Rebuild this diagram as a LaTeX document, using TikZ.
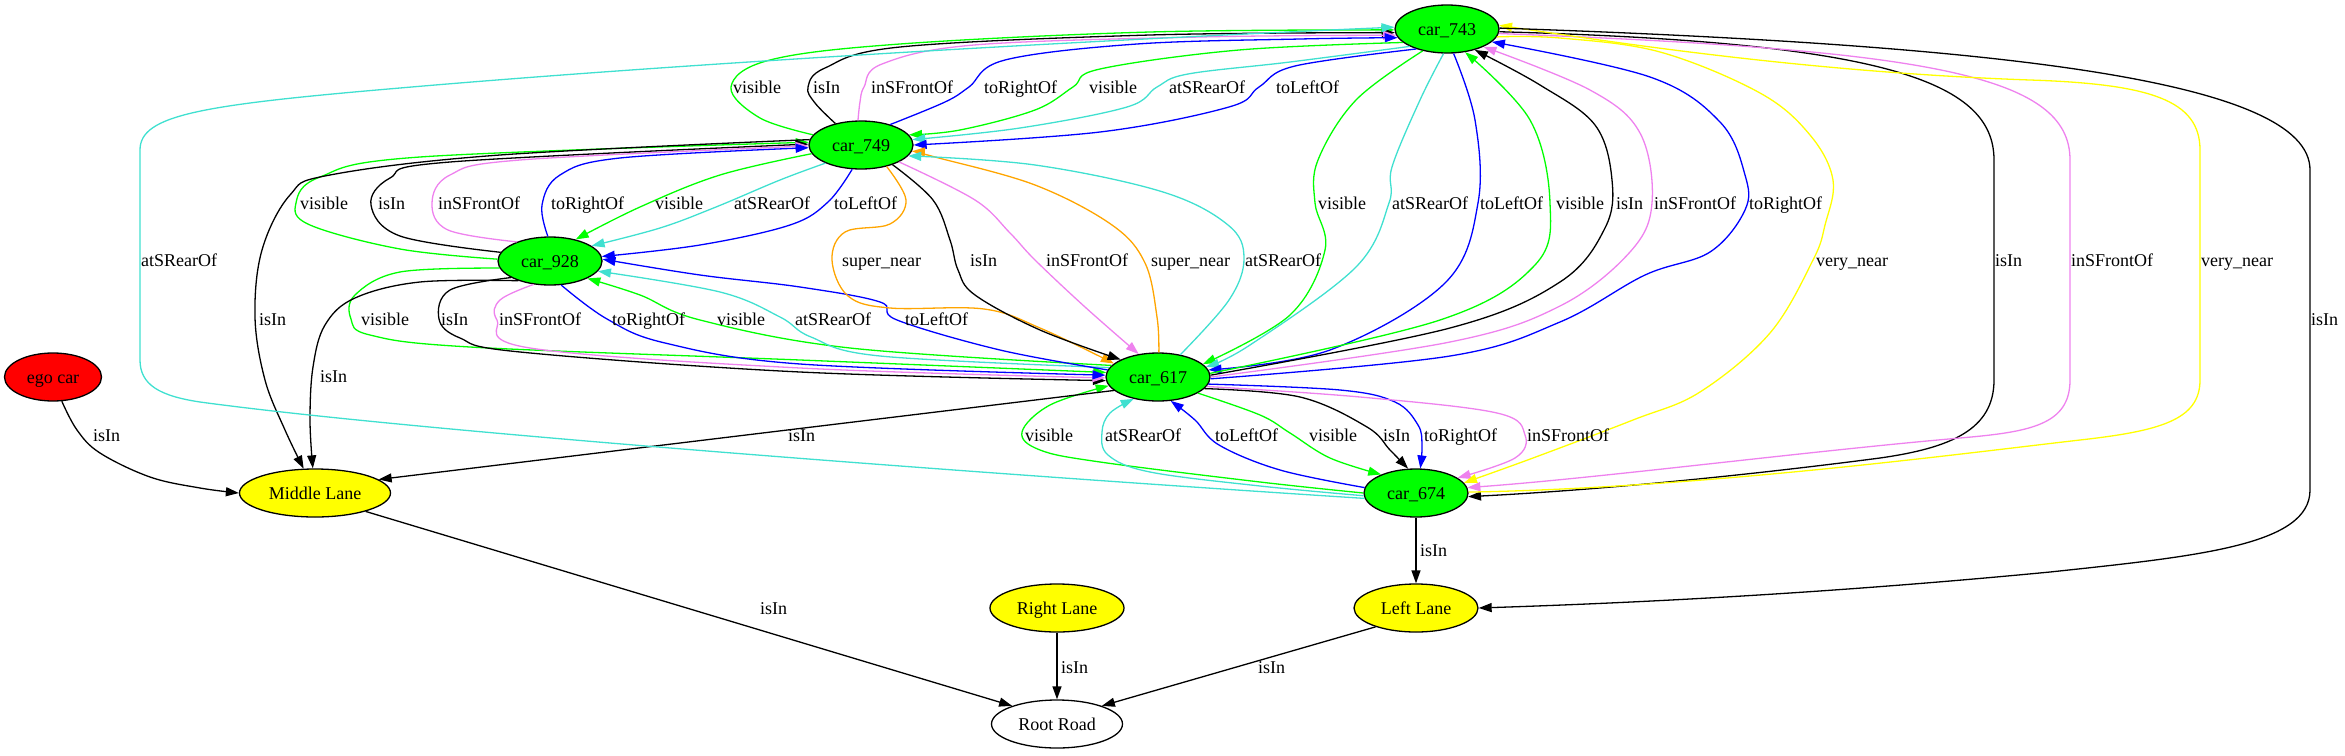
\documentclass[tikz,border=0pt]{standalone}
\usepackage{fontspec}
\setmainfont{Liberation Serif}
\usetikzlibrary{arrows.meta,shapes.geometric}
\definecolor{gvgreen}{RGB}{0,255,0}
\definecolor{gvcyan}{RGB}{64,224,208}
\definecolor{gvviolet}{RGB}{238,130,238}
\definecolor{gvorange}{RGB}{255,165,0}
\definecolor{gvyellow}{RGB}{255,255,0}
\definecolor{gvred}{RGB}{255,0,0}
\begin{document}
\begin{tikzpicture}[x=1pt,y=-1pt,tension=0.6,
  every node/.style={font=\fontsize{18}{21}\selectfont,text height=12.5pt,text depth=0pt},
  obj/.style={ellipse,draw,line width=1.3pt,minimum height=48pt,inner sep=0pt},
  car/.style={obj,fill=gvgreen,minimum width=104pt},
  lane/.style={obj,fill=gvyellow},
  rel/.style={line width=1.3pt,-{Triangle[length=13pt,width=9pt]}},
  vis/.style={rel,gvgreen},
  isin/.style={rel,black},
  front/.style={rel,gvviolet},
  toright/.style={rel,blue},
  rear/.style={rel,gvcyan},
  toleft/.style={rel,blue},
  snear/.style={rel,gvorange},
  vnear/.style={rel,gvyellow},
  lbl/.style={anchor=west,inner sep=0pt}]
      \useasboundingbox (0,0) rectangle (2345,755);
      \node[car] (C743) at (1447,29) {car\_743};
      \node[car] (C749) at (861,145) {car\_749};
      \node[car] (C928) at (550,261) {car\_928};
      \node[car] (C617) at (1158,377) {car\_617};
      \node[car] (C674) at (1416,493) {car\_674};
      \node[obj,fill=gvred,minimum width=97pt] (E) at (53,377) {ego car};
      \node[lane,minimum width=151pt] (ML) at (315,493) {Middle Lane};
      \node[lane,minimum width=134pt] (RL) at (1057,608) {Right Lane};
      \node[lane,minimum width=124pt] (LL) at (1416,608) {Left Lane};
      \node[obj,minimum width=131pt] (RR) at (1057,724) {Root Road};
      
      % car_749 -> car_743
      \draw[vis] plot[smooth] coordinates {(C749.168) (760,118) (731,87) (770,60) (900,44) (1150,32) (C743.181)};
      \draw[isin] plot[smooth] coordinates {(C749.140) (815,103) (808,87) (825,68) (900,47) (1150,35) (C743.184)};
      \draw[front] plot[smooth] coordinates {(C749.97) (860,102) (864,87) (882,64) (974,45) (1200,37) (C743.187)};
      \draw[toright] plot[smooth] coordinates {(C749.35) (945,102) (969,87) (1005,60) (1137,44) (1300,39) (C743.190)};
      % car_743 -> car_749
      \draw[vis] plot[smooth] coordinates {(C743.197) (1239,50) (1100,69) (1073,87) (1035,110) (960,130) (C749.12)};
      \draw[rear] plot[smooth] coordinates {(C743.205) (1290,62) (1188,74) (1157,87) (1127,107) (1020,128) (C749.6)};
      \draw[toleft] plot[smooth] coordinates {(C743.213) (1295,66) (1259,87) (1229,107) (1100,132) (C749.0)};
      
      % car_928 -> car_749
      \draw[vis] plot[smooth] coordinates {(C928.178) (400,249) (310,225) (296,203) (320,177) (420,157) (C749.177)};
      \draw[isin] plot[smooth] coordinates {(C928.170) (400,236) (371,205) (390,178) (450,162) (C749.179)};
      \draw[front] plot[smooth] coordinates {(C928.150) (448,230) (432,203) (450,175) (520,160) (C749.181)};
      \draw[toright] plot[smooth] coordinates {(C928.95) (542,205) (560,175) (620,158) (C749.183)};
      % car_749 -> car_928
      \draw[vis] plot[smooth] coordinates {(C749.190) (720,175) (640,207) (C928.40)};
      \draw[rear] plot[smooth] coordinates {(C749.207) (780,180) (716,207) (660,228) (C928.20)};
      \draw[toleft] plot[smooth] coordinates {(C749.250) (828,202) (790,225) (700,245) (C928.5)};
      
      % car_928 -> car_617
      \draw[vis] plot[smooth] coordinates {(C928.188) (400,272) (355,295) (351,319) (370,335) (470,347) (800,360) (C617.175)};
      \draw[isin] plot[smooth] coordinates {(C928.203) (450,290) (439,319) (460,338) (520,352) (800,372) (C617.184)};
      \draw[front] plot[smooth] coordinates {(C928.235) (500,300) (497,320) (530,348) (800,368) (C617.181)};
      \draw[toright] plot[smooth] coordinates {(C928.295) (607,319) (665,343) (800,364) (C617.178)};
      % car_617 -> car_928
      \draw[vis] plot[smooth] coordinates {(C617.166) (850,348) (700,320) (640,295) (C928.335)};
      \draw[rear] plot[smooth] coordinates {(C617.169) (880,356) (811,337) (780,317) (720,292) (C928.348)};
      \draw[toleft] plot[smooth] coordinates {(C617.172) (1000,350) (897,320) (880,302) (800,287) (700,275) (C928.2)};
      
      % car_743 -> car_617
      \draw[vis] plot[smooth] coordinates {(C743.222) (1356,100) (1318,160) (1315,203) (1325,250) (1290,315) (C617.16)};
      \draw[rear] plot[smooth] coordinates {(C743.262) (1420,100) (1392,167) (1389,203) (1356,267) (1250,345) (C617.12)};
      \draw[toleft] plot[smooth] coordinates {(C743.285) (1475,120) (1478,203) (1445,283) (1330,350) (C617.8)};
      % car_617 -> car_743
      \draw[vis] plot[smooth] coordinates {(C617.4) (1440,320) (1535,265) (1550,203) (1530,120) (C743.308)};
      \draw[isin] plot[smooth] coordinates {(C617.2) (1450,328) (1560,282) (1605,228) (1612,180) (1595,125) (1540,85) (C743.323)};
      \draw[front] plot[smooth] coordinates {(C617.0) (1450,342) (1560,306) (1630,252) (1652,203) (1640,133) (1590,90) (C743.334)};
      \draw[toright] plot[smooth] coordinates {(C617.358) (1450,356) (1560,322) (1645,275) (1710,252) (1745,210) (1745,175) (1720,122) (1650,77) (C743.344)};
      
      % car_749 <-> car_617
      \draw[snear] plot[smooth] coordinates {(C749.320) (906,200) (890,224) (845,232) (832,260) (848,296) (890,308) (984,309) (1040,328) (C617.163)};
      \draw[isin] plot[smooth] coordinates {(C749.328) (933,200) (950,240) (958,270) (975,295) (1040,330) (C617.155)};
      \draw[front] plot[smooth] coordinates {(C749.336) (975,200) (1010,233) (1035,260) (1085,307) (C617.130)};
      \draw[snear] plot[smooth] coordinates {(C617.88) (1157,317) (1145,263) (1112,225) (1035,185) (935,157) (C749.353)};
      \draw[rear] plot[smooth] coordinates {(C617.45) (1229,300) (1244,258) (1228,225) (1163,192) (1035,165) (C749.347)};
      
      % car_674 <-> car_617
      \draw[vis] plot[smooth] coordinates {(C674.180) (1260,482) (1100,462) (1040,450) (1022,432) (1050,405) (C617.190)};
      \draw[rear] plot[smooth] coordinates {(C674.183) (1260,486) (1150,472) (1108,455) (1102,432) (1110,413) (C617.222)};
      \draw[toleft] plot[smooth] coordinates {(C674.174) (1280,470) (1219,445) (1195,420) (C617.298)};
      \draw[vis] plot[smooth] coordinates {(C617.338) (1260,415) (1290,433) (1330,458) (C674.152)};
      \draw[isin] plot[smooth] coordinates {(C617.346) (1300,397) (1367,427) (1390,450) (C674.108)};
      \draw[toright] plot[smooth] coordinates {(C617.352) (1340,390) (1395,402) (1418,425) (1422,445) (C674.80)};
      \draw[front] plot[smooth] coordinates {(C617.349) (1360,397) (1497,413) (1525,435) (1515,458) (C674.20)};
      
      % lanes
      \draw[isin] (C617.197) -- (ML.12);
      \draw[isin] plot[smooth] coordinates {(E.290) (77,430) (100,453) (150,477) (200,488) (ML.180)};
      \draw[isin] plot[smooth] coordinates {(C749.174) (500,155) (330,175) (290,195) (262,250) (255,317) (265,380) (285,430) (ML.115)};
      \draw[isin] plot[smooth] coordinates {(C928.212) (420,282) (355,298) (325,325) (313,367) (310,420) (ML.95)};
      \draw[isin] (C674.south) -- (LL.north);
      \draw[isin] (LL.205) -- (RR.22);
      \draw[isin] (RL.south) -- (RR.north);
      \draw[isin] (ML.340) -- (RR.158);
      
      % long way round
      \draw[rear] (C674.186) .. controls (1000,475) and (420,432) .. (200,402) .. controls (160,396) and (140,385) .. (140,360) -- (140,150) .. controls (140,115) and (200,105) .. (400,88) .. controls (700,62) and (1100,40) .. (C743.178);
      \draw[vnear] plot[smooth] coordinates {(C743.351) (1560,38) (1660,52) (1760,93) (1810,135) (1833,180) (1825,225) (1813,260) (1770,333) (1700,392) (1633,420) (1533,458) (C674.12)};
      \draw[isin] (C743.357) .. controls (1880,42) and (1994,80) .. (1994,160) -- (1994,380) .. controls (1994,430) and (1950,448) .. (1880,458) .. controls (1750,475) and (1600,490) .. (C674.356);
      \draw[front] (C743.355) .. controls (1930,50) and (2070,75) .. (2070,160) -- (2070,380) .. controls (2070,425) and (2030,432) .. (1960,438) .. controls (1800,452) and (1600,478) .. (C674.6);
      \draw[vnear] (C674.1) .. controls (1700,488) and (1950,455) .. (2080,440) .. controls (2160,431) and (2200,420) .. (2200,380) -- (2200,150) .. controls (2200,100) and (2150,84) .. (2030,80) .. controls (1800,72) and (1600,40) .. (C743.4);
      \draw[isin] (C743.1) .. controls (2000,45) and (2310,80) .. (2310,170) -- (2310,490) .. controls (2310,545) and (2200,556) .. (2050,572) .. controls (1800,596) and (1600,604) .. (LL.east);
      
      % labels
      \node[lbl] (a1) at (733,87) {visible};
      \node[lbl] (a2) at (813,87) {isIn};
      \node[lbl] (a3) at (871,87) {inSFrontOf};
      \node[lbl] (a4) at (984,87) {toRightOf};
      \node[lbl] (a5) at (1089,87) {visible};
      \node[lbl] (a6) at (1169,87) {atSRearOf};
      \node[lbl] (a7) at (1276,87) {toLeftOf};
      \node[lbl] (b1) at (300,203) {visible};
      \node[lbl] (b2) at (378,203) {isIn};
      \node[lbl] (b3) at (438,203) {inSFrontOf};
      \node[lbl] (b4) at (551,203) {toRightOf};
      \node[lbl] (b5) at (655,203) {visible};
      \node[lbl] (b6) at (734,203) {atSRearOf};
      \node[lbl] (b7) at (834,203) {toLeftOf};
      \node[lbl] (b8) at (1318,203) {visible};
      \node[lbl] (b9) at (1392,203) {atSRearOf};
      \node[lbl] (b10) at (1480,203) {toLeftOf};
      \node[lbl] (b11) at (1556,203) {visible};
      \node[lbl] (b12) at (1616,203) {isIn};
      \node[lbl] (b13) at (1654,203) {inSFrontOf};
      \node[lbl] (b14) at (1749,203) {toRightOf};
      \node[lbl] (c1) at (141,260) {atSRearOf};
      \node[lbl] (c2) at (842,260) {super\_near};
      \node[lbl] (c3) at (970,260) {isIn};
      \node[lbl] (c4) at (1046,260) {inSFrontOf};
      \node[lbl] (c5) at (1151,260) {super\_near};
      \node[lbl] (c6) at (1245,260) {atSRearOf};
      \node[lbl] (c7) at (1816,260) {very\_near};
      \node[lbl] (c8) at (1995,260) {isIn};
      \node[lbl] (c9) at (2071,260) {inSFrontOf};
      \node[lbl] (c10) at (2201,260) {very\_near};
      \node[lbl] (d1) at (259,319) {isIn};
      \node[lbl] (d2) at (361,319) {visible};
      \node[lbl] (d3) at (441,319) {isIn};
      \node[lbl] (d4) at (499,319) {inSFrontOf};
      \node[lbl] (d5) at (612,319) {toRightOf};
      \node[lbl] (d6) at (717,319) {visible};
      \node[lbl] (d7) at (795,319) {atSRearOf};
      \node[lbl] (d8) at (905,319) {toLeftOf};
      \node[lbl] (d9) at (2311,319) {isIn};
      \node[lbl] (d10) at (320,376) {isIn};
      \node[lbl] (f1) at (93,435) {isIn};
      \node[lbl] (f2) at (788,435) {isIn};
      \node[lbl] (f3) at (1025,435) {visible};
      \node[lbl] (f4) at (1105,435) {atSRearOf};
      \node[lbl] (f5) at (1215,435) {toLeftOf};
      \node[lbl] (f6) at (1309,435) {visible};
      \node[lbl] (f7) at (1383,435) {isIn};
      \node[lbl] (f8) at (1424,435) {toRightOf};
      \node[lbl] (f9) at (1527,435) {inSFrontOf};
      \node[lbl] (g1) at (1420,550) {isIn};
      \node[lbl] (g2) at (760,608) {isIn};
      \node[lbl] (g3) at (1061,667) {isIn};
      \node[lbl] (g4) at (1258,667) {isIn};
    \end{tikzpicture}
\end{document}
